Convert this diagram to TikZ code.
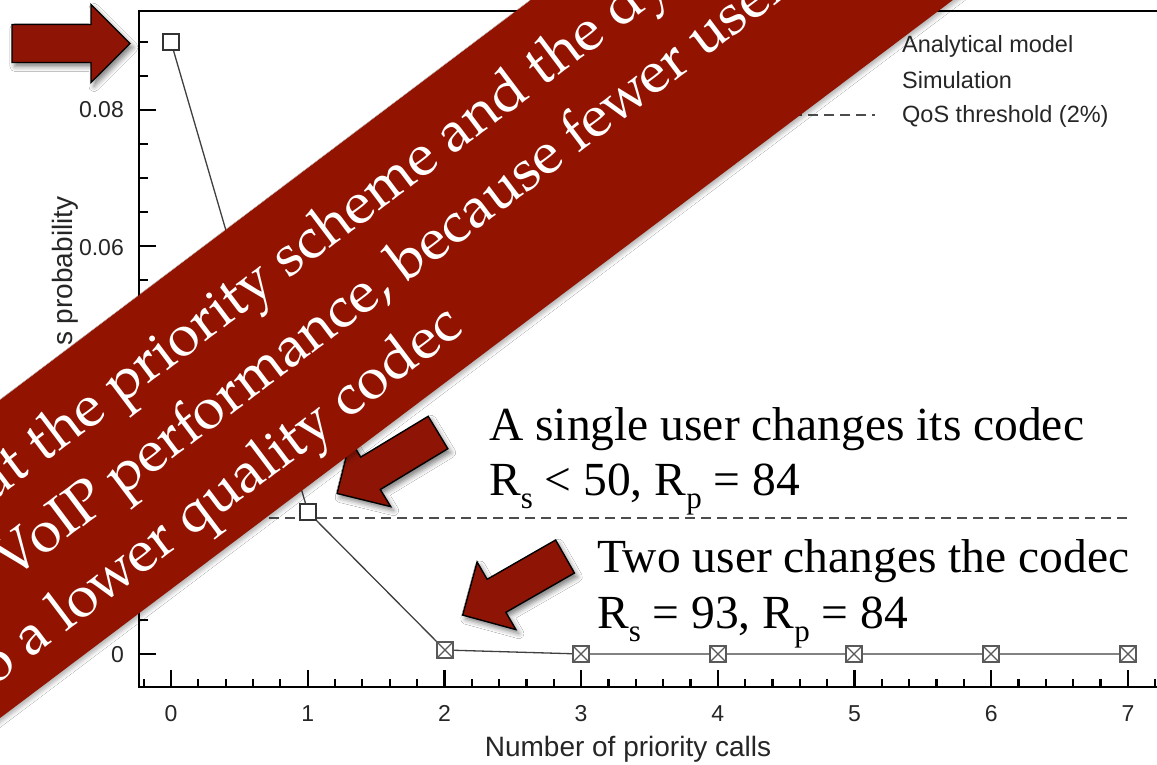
\documentclass[tikz,border=0pt]{standalone}
\usepackage{fontspec}
\setmainfont{Liberation Sans}
\newfontfamily\annfont{Liberation Serif}
\newfontfamily\banfont{TeX Gyre Pagella}
\usetikzlibrary{shadows.blur}
\definecolor{banred}{RGB}{146,19,0}
\definecolor{arrred}{RGB}{142,21,6}
\newcommand\lowsub[1]{\raisebox{-13pt}{\fontsize{31}{31}\selectfont #1}}
\begin{document}
\begin{tikzpicture}[x=1pt,y=-1pt,
  frameline/.style={line width=2.6pt,black},
  tickline/.style={line width=2.2pt,black},
  ticklab/.style={font=\fontsize{23}{23}\selectfont, inner sep=0pt, text=black!85},
  axlab/.style={font=\fontsize{28}{28}\selectfont, inner sep=0pt, text=black!85},
  leglab/.style={font=\fontsize{23.5}{23.5}\selectfont, inner sep=0pt, anchor=base west, text=black!85},
  dataline/.style={line width=1.3pt, black!75},
  thrline/.style={line width=1.6pt, black!70, dash pattern=on 10pt off 6pt},
  opensq/.style={rectangle, draw=black!80, fill=white, line width=1.3pt, minimum size=16pt, inner sep=0pt},
  crosssq/.style={opensq, draw=black!65, path picture={\draw[black!65,line width=1.1pt] (path picture bounding box.north west) -- (path picture bounding box.south east) (path picture bounding box.north east) -- (path picture bounding box.south west);}},
  anntext/.style={font=\annfont\fontsize{47.5}{47.5}\selectfont, inner sep=0pt, anchor=base west},
  bantext/.style={font=\banfont\fontsize{58}{58}\selectfont, text=white, inner sep=0pt, anchor=base west, transform shape},
  blockarrow/.style={fill=arrred, draw=black, line width=1.4pt, line join=miter, blur shadow={shadow xshift=3pt, shadow yshift=-4pt, shadow blur radius=5pt, shadow opacity=50}},
  bannerfill/.style={fill=banred, blur shadow={shadow xshift=2pt, shadow yshift=-3pt, shadow blur radius=4pt, shadow opacity=30}}
]
\useasboundingbox (0,0) rectangle (1157,765);
\clip (0,0) rectangle (1157,765);
\fill[white] (0,0) rectangle (1157,765);

% frame
\draw[frameline] (1165,11) -- (139,11) -- (139,687) -- (1165,687);
% y ticks
\foreach \k in {0,...,18}{
  \pgfmathsetmacro\yy{654-34*\k}
  \pgfmathtruncatemacro\mm{mod(\k,4)}
  \ifnum\mm=0 \def\len{17}\else\def\len{9}\fi
  \draw[tickline] (139,\yy) -- ++(\len,0);
}
% x ticks
\foreach \j in {-1,...,36}{
  \pgfmathsetmacro\xx{171+27.34*\j}
  \pgfmathtruncatemacro\mm{mod(\j+5,5)}
  \ifnum\mm=0 \def\len{17}\else\def\len{8}\fi
  \draw[tickline] (\xx,687) -- ++(0,-\len);
}
% tick labels
\foreach \i in {0,...,7}{
  \node[ticklab, anchor=base] (xl\i) at ({171+136.7*\i},721) {\i};
}
\node[ticklab, anchor=base east] (yl0) at (124,662) {0};
\node[ticklab, anchor=base east] (yl6) at (124,255) {0.06};
\node[ticklab, anchor=base east] (yl8) at (124,118) {0.08};
% axis titles
\node[axlab, anchor=base] (xtitle) at (628,756) {Number of priority calls};
\node[axlab, rotate=90, anchor=base west] (ytitle) at (72,346) {s probability};

% threshold
\coordinate (th0) at (141,518);
\coordinate (th1) at (1130,518);
\draw[thrline] (th0) -- (th1);

% legend
\coordinate (lg0) at (760,115);
\coordinate (lg1) at (875,115);
\draw[thrline] (lg0) -- (lg1);
\node[leglab] (leg1) at (902,53) {Analytical model};
\node[leglab] (leg2) at (902,89) {Simulation};
\node[leglab] (leg3) at (902,123) {QoS threshold (2\%)};

% data
\coordinate (d0) at (171,42);
\coordinate (d1) at (308,512);
\coordinate (d2) at (445,650);
\coordinate (d3) at (581,654);
\coordinate (d4) at (718,654);
\coordinate (d5) at (854,654);
\coordinate (d6) at (991,654);
\coordinate (d7) at (1128,654);
\draw[dataline] (d0) -- (d1) -- (d2) -- (d3) -- (d4) -- (d5) -- (d6) -- (d7);
\node[opensq] (m0) at (d0) {};
\node[opensq] (m1) at (d1) {};
\foreach \i in {2,...,7}{ \node[crosssq] (m\i) at (d\i) {}; }

% annotations
\node[anntext] (a1) at (489,440) {A single user changes its codec};
\node[anntext] (a2) at (489,495) {R\lowsub{s} < 50, R\lowsub{p} = 84};
\node[anntext] (b1) at (597,572) {Two user changes the codec};
\node[anntext] (b2) at (597,628) {R\lowsub{s} = 93, R\lowsub{p} = 84};

% arrow 3 (to point 2)
\path[blockarrow] (555.6,540.0) -- (574.4,573.0) -- (505.9,612.3) -- (515.9,629.6) -- (462.7,615.1) -- (477.1,562.0) -- (487.1,579.3) -- cycle;
% arrow 2 (to point 1)
\path[blockarrow] (428.2,416.3) -- (447.8,448.7) -- (380.3,489.5) -- (390.7,506.6) -- (337.1,493.5) -- (350.3,440.0) -- (360.7,457.1) -- cycle;

% banner
\begin{scope}[shift={(0,400)}, rotate=37]
  \path[bannerfill] (-700,0) rectangle (1600,254);
  \node[bantext] (t1) at (-66,77) {at the priority scheme and the dynamic};
  \node[bantext] (t2) at (-99,151) {VoIP performance, because fewer users};
  \node[bantext] (t3) at (-196,225) {to a lower quality codec};
\end{scope}

% arrow 1 (to point 0)
\path[blockarrow] (12,24.5) -- (91,24.5) -- (91,4.5) -- (130,43.5) -- (91,82.5) -- (91,62.5) -- (12,62.5) -- cycle;
\end{tikzpicture}
\end{document}
